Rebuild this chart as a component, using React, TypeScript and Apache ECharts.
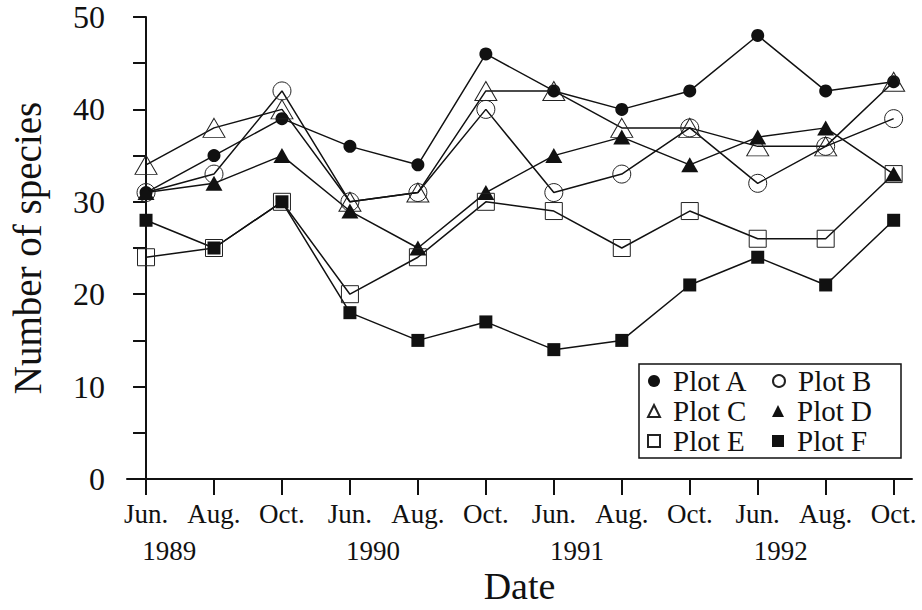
import React, { useEffect, useRef } from "react";
import * as echarts from "echarts";

const months = ["Jun.", "Aug.", "Oct.", "Jun.", "Aug.", "Oct.", "Jun.", "Aug.", "Oct.", "Jun.", "Aug.", "Oct."];
const years = ["1989", "1990", "1991", "1992"];
const yTicks = [0, 10, 20, 30, 40, 50];

const plotA = [31, 35, 39, 36, 34, 46, 42, 40, 42, 48, 42, 43];
const plotB = [31, 33, 42, 30, 31, 40, 31, 33, 38, 32, 36, 39];
const plotC = [34, 38, 40, 30, 31, 42, 42, 38, 38, 36, 36, 43];
const plotD = [31, 32, 35, 29, 25, 31, 35, 37, 34, 37, 38, 33];
const plotE = [24, 25, 30, 20, 24, 30, 29, 25, 29, 26, 26, 33];
const plotF = [28, 25, 30, 18, 15, 17, 14, 15, 21, 24, 21, 28];

const FONT = '"Liberation Serif", "Times New Roman", serif';

export default function App() {
  const ref = useRef<HTMLDivElement>(null);
  useEffect(() => {
    if (!ref.current) return;
    const chart = echarts.init(ref.current, null, { renderer: "svg" });
    const toData = (arr: number[]) => arr.map((v, i) => [i, v]);
    const filled = { color: "#111", borderColor: "#111", borderWidth: 0 };
    const open = { color: "rgba(255,255,255,0)", borderColor: "#222", borderWidth: 1 };
    const mk = (name: string, data: number[], symbol: string, size: any, style: any) => ({
      name,
      type: "line",
      data: toData(data),
      symbol,
      symbolSize: size,
      showAllSymbol: true,
      lineStyle: { color: "#111", width: 1.5 },
      itemStyle: style,
      emphasis: { disabled: true },
      z: 3,
    });
    const xMin = -0.28;
    const xMax = 11.27;
    chart.setOption({
      animation: false,
      grid: { left: 123, right: 10, top: 17, bottom: 129, containLabel: false },
      legend: {
        left: 639,
        top: 364,
        width: 262,
        orient: "horizontal",
        borderColor: "#111",
        borderWidth: 1.5,
        padding: [2, 4, 2, 8],
        itemGap: 0,
        itemWidth: 12,
        itemHeight: 12,
        data: [
          { name: "Plot A", icon: "circle" },
          { name: "Plot B", icon: "circle" },
          { name: "Plot C", icon: "triangle" },
          { name: "Plot D", icon: "triangle" },
          { name: "Plot E", icon: "rect" },
          { name: "Plot F", icon: "rect" },
        ],
        textStyle: {
          fontFamily: FONT,
          fontSize: 29,
          color: "#111",
          width: 99,
          lineHeight: 30,
          padding: [0, 0, 0, 8],
        },
      },
      xAxis: [
        {
          type: "value",
          min: xMin,
          max: xMax,
          splitLine: { show: false },
          axisLine: { show: true, onZero: false, lineStyle: { color: "#111", width: 2 } },
          axisTick: {
            show: true,
            length: 16,
            inside: false,
            customValues: months.map((_, i) => i),
            lineStyle: { color: "#111", width: 2 },
          },
          axisLabel: {
            customValues: months.map((_, i) => i),
            formatter: (v: number) => months[Math.round(v)] ?? "",
            fontFamily: FONT,
            fontSize: 27,
            color: "#111",
            margin: 21,
          },
          name: "Date",
          nameLocation: "middle",
          nameGap: 88,
          nameTextStyle: { fontFamily: FONT, fontSize: 38, color: "#111" },
        },
        {
          type: "value",
          min: xMin,
          max: xMax,
          position: "bottom",
          splitLine: { show: false },
          axisLine: { show: false },
          axisTick: { show: false },
          axisLabel: {
            customValues: years.map((_, i) => i * 3 + 0.34),
            formatter: (v: number) => years[Math.round((v - 0.34) / 3)] ?? "",
            fontFamily: FONT,
            fontSize: 27,
            color: "#111",
            margin: 58,
          },
        },
      ],
      yAxis: {
        type: "value",
        min: 0,
        max: 50,
        interval: 10,
        splitLine: { show: false },
        axisLine: { show: true, lineStyle: { color: "#111", width: 2 } },
        axisTick: { show: true, length: 13, lineStyle: { color: "#111", width: 2 } },
        minorTick: { show: true, splitNumber: 2, length: 13, lineStyle: { color: "#111", width: 2 } },
        axisLabel: {
          fontFamily: FONT,
          fontSize: 32,
          color: "#111",
          margin: 22,
          formatter: (v: number) => (yTicks.includes(v) ? String(v) : ""),
        },
        name: "Number of species",
        nameLocation: "middle",
        nameGap: 80,
        nameTextStyle: { fontFamily: FONT, fontSize: 39, color: "#111" },
      },
      series: [
        mk("Plot A", plotA, "circle", 13, filled),
        mk("Plot B", plotB, "circle", 18, open),
        mk("Plot C", plotC, "triangle", [22, 19], open),
        mk("Plot D", plotD, "triangle", [17, 15], filled),
        mk("Plot E", plotE, "rect", 17, open),
        mk("Plot F", plotF, "rect", 13, filled),
      ],
    });
    return () => chart.dispose();
  }, []);
  return (
    <div
      ref={ref}
      style={{ position: "fixed", left: 0, top: 0, width: 922, height: 610, background: "#fff" }}
    />
  );
}
